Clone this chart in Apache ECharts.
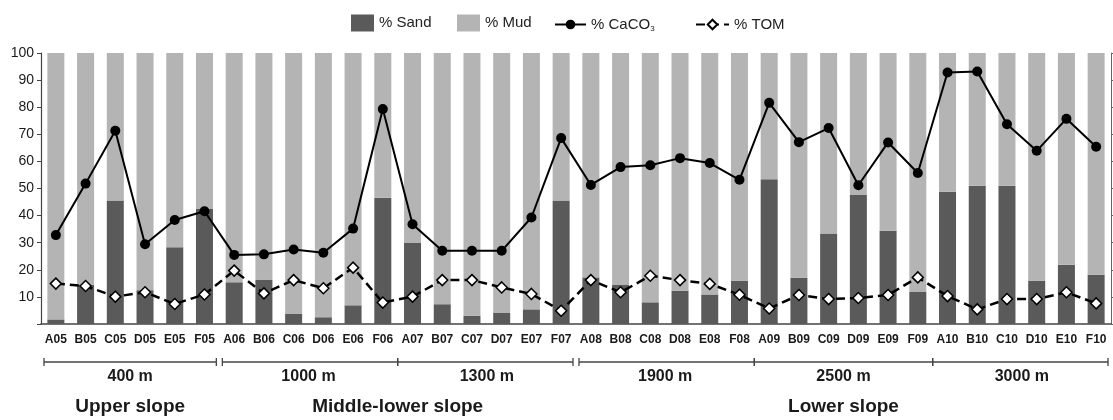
<!doctype html>
<html lang="en">
<head>
    <meta charset="utf-8"/>
    <title>Sediment composition by station</title>
    <script src="https://cdn.jsdelivr.net/npm/echarts@6/dist/echarts.min.js"></script>
    <style>
        html, body { margin: 0; padding: 0; background: #fff; }
        #chart { width: 1113px; height: 420px; }
    </style>
</head>
<body>
<div id="chart"></div>
<script>
    // stations, 6 per depth
    const stations = [
        "A05", "B05", "C05", "D05", "E05", "F05",
        "A06", "B06", "C06", "D06", "E06", "F06",
        "A07", "B07", "C07", "D07", "E07", "F07",
        "A08", "B08", "C08", "D08", "E08", "F08",
        "A09", "B09", "C09", "D09", "E09", "F09",
        "A10", "B10", "C10", "D10", "E10", "F10"
    ];
    const sand = [
        1.7, 14.5, 45.6, 12.5, 28.3, 42.4,
        15.4, 16.4, 3.7, 2.5, 6.9, 46.6,
        29.9, 7.3, 3.1, 4.1, 5.4, 45.6,
        17.2, 14.4, 8.0, 12.3, 10.9, 16.0,
        53.4, 17.1, 33.4, 47.6, 34.4, 11.8,
        48.8, 51.0, 51.0, 16.0, 21.9, 18.2
    ];
    const mud = [
        98.3, 85.5, 54.4, 87.5, 71.7, 57.6,
        84.6, 83.6, 96.3, 97.5, 93.1, 53.4,
        70.1, 92.7, 96.9, 95.9, 94.6, 54.4,
        82.8, 85.6, 92.0, 87.7, 89.1, 84.0,
        46.6, 82.9, 66.6, 52.4, 65.6, 88.2,
        51.2, 49.0, 49.0, 84.0, 78.1, 81.8
    ];
    const caco3 = [
        32.8, 51.8, 71.3, 29.4, 38.4, 41.6,
        25.5, 25.7, 27.5, 26.3, 35.2, 79.3,
        36.8, 27.0, 27.0, 27.0, 39.3, 68.6,
        51.3, 57.9, 58.6, 61.2, 59.4, 53.2,
        81.6, 67.1, 72.3, 51.2, 67.0, 55.7,
        92.8, 93.2, 73.7, 63.9, 75.7, 65.4
    ];
    const tom = [
        14.9, 14.0, 10.1, 11.7, 7.4, 10.9,
        19.7, 11.3, 16.2, 13.2, 20.8, 7.9,
        10.1, 16.2, 16.2, 13.5, 11.1, 4.9,
        16.2, 11.7, 17.8, 16.2, 14.8, 10.8,
        5.7, 10.7, 9.2, 9.6, 10.7, 17.2,
        10.3, 5.4, 9.2, 9.2, 11.7, 7.6
    ];
    const depths = ["400 m", "1000 m", "1300 m", "1900 m", "2500 m", "3000 m"];
    // zone name, first depth group, last depth group
    const zones = [
        ["Upper slope", 0, 0],
        ["Middle-lower slope", 1, 2],
        ["Lower slope", 3, 5]
    ];
    const perDepth = 6;

    const font = "'Liberation Sans', Arial, sans-serif";
    const sandColor = "#5a5a5a";
    const mudColor = "#b4b4b4";

    const chart = echarts.init(document.getElementById("chart"), null, {renderer: "canvas"});

    const legendText = {
        fontFamily: font,
        fontSize: 15,
        color: "#222",
        rich: {
            sub: {fontFamily: font, fontSize: 8, color: "#222", padding: [8, 0, 0, 0]}
        }
    };
    function legendItem(name, left, w, h, icon) {
        const item = {
            data: [name],
            left: left,
            top: 23 - h / 2,
            padding: 0,
            itemWidth: w,
            itemHeight: h,
            itemGap: 4,
            selectedMode: false,
            textStyle: legendText,
            formatter: function (n) {
                return n === "% CaCO3" ? "% CaCO{sub|3}" : n;
            }
        };
        if (icon) item.icon = icon;
        return item;
    }

    const option = {
        animation: false,
        backgroundColor: "#fff",
        textStyle: {fontFamily: font},
        legend: [
            legendItem("% Sand", 351, 23, 17, "rect"),
            legendItem("% Mud", 457, 23, 17, "rect"),
            legendItem("% CaCO3", 554, 31, 12),
            legendItem("% TOM", 695, 33, 12)
        ],
        grid: {left: 41, right: 2, top: 53, bottom: 96, containLabel: false},
        xAxis: {
            type: "category",
            data: stations,
            axisLine: {lineStyle: {color: "#444", width: 1.5}},
            axisTick: {show: false},
            axisLabel: {
                interval: 0,
                margin: 10,
                fontFamily: font,
                fontSize: 12,
                fontWeight: "bold",
                color: "#1a1a1a"
            }
        },
        yAxis: [
            {
                type: "value",
                min: 0,
                max: 100,
                interval: 10,
                splitLine: {show: false},
                axisLine: {show: true, lineStyle: {color: "#444", width: 1.2}},
                axisTick: {show: true, length: 4, lineStyle: {color: "#444"}},
                axisLabel: {
                    margin: 7,
                    fontFamily: font,
                    fontSize: 14,
                    color: "#1a1a1a",
                    formatter: function (v) { return v === 0 ? "" : v; }
                }
            },
            {
                type: "value",
                position: "right",
                min: 0,
                max: 100,
                interval: 10,
                splitLine: {show: false},
                axisLine: {show: true, lineStyle: {color: "#666", width: 1}},
                axisTick: {show: true, length: 3, lineStyle: {color: "#666"}},
                axisLabel: {show: false}
            }
        ],
        series: [
            {
                name: "% Sand",
                type: "bar",
                stack: "grain",
                data: sand,
                barWidth: 17,
                itemStyle: {color: sandColor}
            },
            {
                name: "% Mud",
                type: "bar",
                stack: "grain",
                data: mud,
                barWidth: 17,
                itemStyle: {color: mudColor}
            },
            {
                name: "% CaCO3",
                type: "line",
                data: caco3,
                symbol: "circle",
                symbolSize: 10,
                z: 5,
                lineStyle: {color: "#000", width: 2},
                itemStyle: {color: "#000"}
            },
            {
                name: "% TOM",
                type: "line",
                data: tom,
                symbol: "diamond",
                symbolSize: 11,
                z: 6,
                lineStyle: {color: "#000", width: 2.5, type: [9, 5]},
                itemStyle: {color: "#fff", borderColor: "#000", borderWidth: 1.5}
            }
        ]
    };
    chart.setOption(option);

    // depth brackets and slope zones under the station labels
    function drawBrackets() {
        const c0 = chart.convertToPixel({xAxisIndex: 0}, 0);
        const c1 = chart.convertToPixel({xAxisIndex: 0}, 1);
        const band = c1 - c0;
        const edge = function (i) { return c0 - band / 2 + i * band; };
        const zoneEdge = {};
        zones.forEach(function (z) {
            zoneEdge[z[1] + "s"] = true;
            zoneEdge[z[2] + "e"] = true;
        });
        const yLine = 362;
        const els = [];
        depths.forEach(function (d, g) {
            const x1 = edge(g * perDepth) + (zoneEdge[g + "s"] ? 3 : 0);
            const x2 = edge((g + 1) * perDepth) - (zoneEdge[g + "e"] ? 3 : 0);
            els.push({
                type: "polyline", silent: true,
                shape: {points: [[x1, yLine], [x2, yLine]]},
                style: {stroke: "#444", lineWidth: 1.3}
            });
            [x1, x2].forEach(function (x) {
                els.push({
                    type: "line", silent: true,
                    shape: {x1: x, y1: yLine - 4, x2: x, y2: yLine + 4},
                    style: {stroke: "#444", lineWidth: 1.3}
                });
            });
            els.push({
                type: "text", silent: true,
                x: (edge(g * perDepth) + edge((g + 1) * perDepth)) / 2,
                y: 377,
                style: {
                    text: d, fontFamily: font, fontSize: 16, fontWeight: "bold",
                    fill: "#1a1a1a", align: "center", verticalAlign: "middle"
                }
            });
        });
        zones.forEach(function (z) {
            els.push({
                type: "text", silent: true,
                x: (edge(z[1] * perDepth) + edge((z[2] + 1) * perDepth)) / 2,
                y: 407,
                style: {
                    text: z[0], fontFamily: font, fontSize: 19, fontWeight: "bold",
                    fill: "#1a1a1a", align: "center", verticalAlign: "middle"
                }
            });
        });
        chart.setOption({graphic: {elements: els}});
    }
    drawBrackets();

    window.onresize = function () {
        chart.resize();
        drawBrackets();
    };
</script>
</body>
</html>
